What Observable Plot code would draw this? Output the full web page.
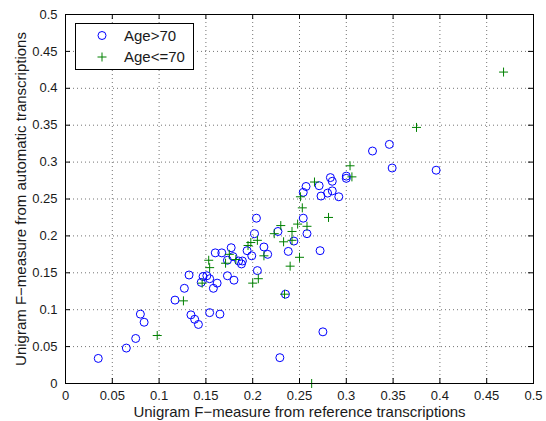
<!DOCTYPE html>
<html>
<head>
<meta charset="utf-8">
<script src="https://cdn.jsdelivr.net/npm/d3@7"></script>
<script src="https://cdn.jsdelivr.net/npm/@observablehq/plot@0.6"></script>
<style>
  body { margin: 0; background: #fff; }
  #wrap { position: relative; width: 546px; height: 421px; font-family: "Liberation Sans", Arial, Helvetica, sans-serif; }
  #legend { position: absolute; left: 75px; top: 23px; }
</style>
</head>
<body>
<div id="wrap"></div>
<script>
// Age>70 (blue circles)
const olderX = [0.035,0.065,0.075,0.080,0.084,0.117,0.127,0.132,0.134,0.138,0.142,0.145,0.147,0.151,0.154,0.154,0.158,0.162,0.165,0.160,0.167,0.173,0.173,0.177,0.179,0.180,0.185,0.188,0.189,0.194,0.199,0.202,0.204,0.205,0.212,0.216,0.227,0.229,0.235,0.238,0.244,0.254,0.254,0.257,0.258,0.271,0.273,0.272,0.275,0.280,0.283,0.285,0.285,0.292,0.300,0.300,0.328,0.346,0.349,0.396];
const olderY = [0.034,0.048,0.061,0.094,0.083,0.113,0.129,0.147,0.093,0.087,0.080,0.137,0.145,0.146,0.142,0.096,0.129,0.136,0.094,0.177,0.177,0.146,0.167,0.184,0.172,0.140,0.166,0.162,0.166,0.180,0.173,0.203,0.224,0.153,0.185,0.175,0.206,0.035,0.121,0.179,0.193,0.224,0.259,0.267,0.203,0.268,0.254,0.180,0.070,0.258,0.279,0.274,0.261,0.253,0.281,0.278,0.315,0.324,0.292,0.289];
// Age<=70 (green plus)
const youngerX = [0.098,0.126,0.146,0.153,0.154,0.171,0.175,0.182,0.195,0.198,0.200,0.205,0.206,0.212,0.223,0.230,0.233,0.234,0.240,0.242,0.242,0.248,0.250,0.251,0.253,0.258,0.263,0.266,0.281,0.304,0.306,0.375,0.468];
const youngerY = [0.065,0.112,0.136,0.167,0.157,0.163,0.175,0.168,0.187,0.191,0.136,0.194,0.142,0.173,0.203,0.214,0.192,0.121,0.159,0.206,0.194,0.216,0.171,0.253,0.238,0.213,0.000,0.273,0.225,0.295,0.280,0.347,0.422];

const seriesNames = ["Age>70", "Age<=70"];
const seriesColors = ["#0000ff", "#008000"];
const xTicks = [0, 0.05, 0.1, 0.15, 0.2, 0.25, 0.3, 0.35, 0.4, 0.45, 0.5];
const yTicks = [0, 0.05, 0.1, 0.15, 0.2, 0.25, 0.3, 0.35, 0.4, 0.45, 0.5];
const xLabel = "Unigram F\u2212measure from reference transcriptions";
const yLabel = "Unigram F\u2212measure from automatic transcriptions";

const older = olderX.map((x, i) => ({x, y: olderY[i]}));
const younger = youngerX.map((x, i) => ({x, y: youngerY[i]}));

const plusSymbol = {
  draw(ctx, size) {
    const r = Math.sqrt(size / Math.PI);
    ctx.moveTo(-r, 0); ctx.lineTo(r, 0);
    ctx.moveTo(0, -r); ctx.lineTo(0, r);
  }
};
const fmt = d => String(+d.toFixed(2));
const frameH = 421 - 14 - 38;
const frameW = 546 - 65 - 13;
const tickLen = 5;

const chart = Plot.plot({
  width: 546,
  height: 421,
  marginLeft: 65,
  marginRight: 13,
  marginTop: 14,
  marginBottom: 38,
  style: { fontFamily: '"Liberation Sans", Arial, Helvetica, sans-serif', fontSize: "13px", color: "#1a1a1a", background: "#fff" },
  x: { domain: [0, 0.5] },
  y: { domain: [0, 0.5] },
  marks: [
    Plot.gridX(xTicks.slice(1, -1), { stroke: "#000", strokeOpacity: 0.55, strokeDasharray: "1,3" }),
    Plot.gridY(yTicks.slice(1, -1), { stroke: "#000", strokeOpacity: 0.55, strokeDasharray: "1,3" }),
    Plot.tickX(xTicks, { x: d => d, insetTop: frameH - tickLen, stroke: "#000" }),
    Plot.tickX(xTicks, { x: d => d, insetBottom: frameH - tickLen, stroke: "#000" }),
    Plot.tickY(yTicks, { y: d => d, insetRight: frameW - tickLen, stroke: "#000" }),
    Plot.tickY(yTicks, { y: d => d, insetLeft: frameW - tickLen, stroke: "#000" }),
    Plot.axisX(xTicks, { tickSize: 0, tickPadding: 7, tickFormat: fmt, label: null, fontSize: 13 }),
    Plot.axisY(yTicks, { tickSize: 0, tickPadding: 8, tickFormat: fmt, label: null, fontSize: 13 }),
    Plot.dot(older, { x: "x", y: "y", r: 4, stroke: seriesColors[0], fill: "none", strokeWidth: 1 }),
    Plot.dot(younger, { x: "x", y: "y", r: 4.5, symbol: plusSymbol, stroke: seriesColors[1], fill: "none", strokeWidth: 1 }),
    Plot.frame({ stroke: "#000", strokeWidth: 1 }),
    Plot.text([xLabel], { text: d => d, frameAnchor: "bottom", lineAnchor: "middle", textAnchor: "middle", dy: 29, fontSize: 15, fill: "#1a1a1a" }),
    Plot.text([yLabel], { text: d => d, frameAnchor: "left", textAnchor: "middle", lineAnchor: "middle", rotate: -90, dx: -44, fontSize: 15, fill: "#1a1a1a" })
  ]
});

const wrap = document.getElementById("wrap");
wrap.appendChild(chart);

// Legend (inside axes, top-left)
const ns = "http://www.w3.org/2000/svg";
const leg = document.createElementNS(ns, "svg");
leg.setAttribute("id", "legend");
leg.setAttribute("width", 119);
leg.setAttribute("height", 47);
leg.innerHTML = `<rect x="0.5" y="0.5" width="118" height="46" fill="#fff" stroke="#000"/>`;
seriesNames.forEach((name, i) => {
  const cy = 12.5 + i * 21.5;
  const g = document.createElementNS(ns, "g");
  if (i === 0) {
    g.innerHTML = `<circle cx="27" cy="${cy}" r="4" fill="none" stroke="${seriesColors[i]}"/>`;
  } else {
    g.innerHTML = `<path d="M22.5,${cy}H31.5M27,${cy - 4.5}V${cy + 4.5}" fill="none" stroke="${seriesColors[i]}"/>`;
  }
  const t = document.createElementNS(ns, "text");
  t.setAttribute("x", 49);
  t.setAttribute("y", cy);
  t.setAttribute("dy", "0.35em");
  t.setAttribute("font-size", 15);
  t.setAttribute("font-family", '"Liberation Sans", Arial, sans-serif');
  t.setAttribute("fill", "#1a1a1a");
  t.textContent = name;
  g.appendChild(t);
  leg.appendChild(g);
});
wrap.appendChild(leg);
</script>
</body>
</html>
